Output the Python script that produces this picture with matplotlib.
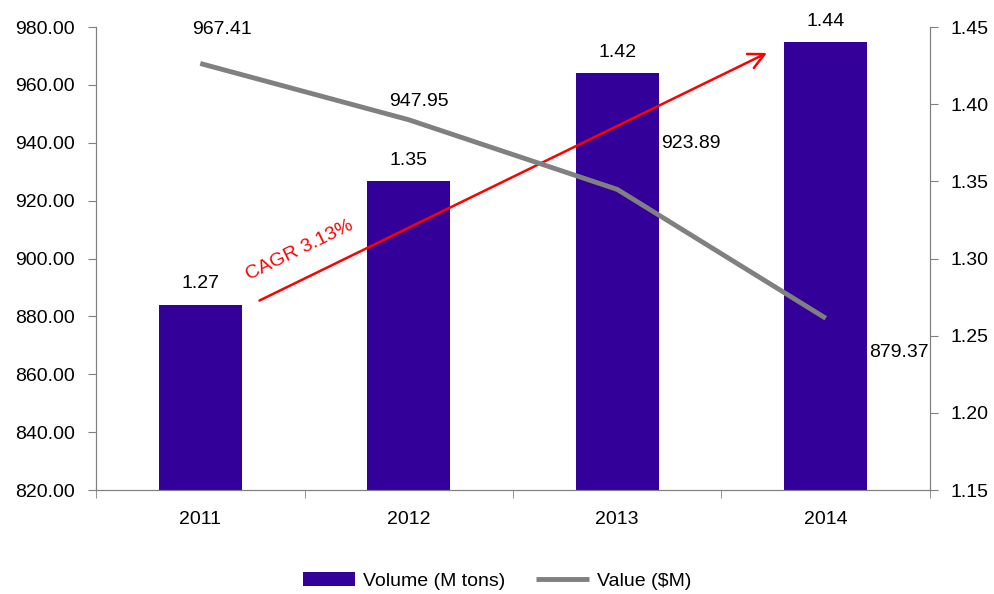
import matplotlib.pyplot as plt
import numpy as np

plt.rcParams['font.family'] = ['Liberation Sans', 'DejaVu Sans']

years = ["2011", "2012", "2013", "2014"]
volume = [1.27, 1.35, 1.42, 1.44]          # M tons (right axis)
value = [967.41, 947.95, 923.89, 879.37]   # $M (left axis)
cagr_label = "CAGR 3.13%"

FS = 14
x = np.arange(len(years))
fig = plt.figure(figsize=(9.94, 5.94), dpi=100)
ax = fig.add_axes([0.0966, 0.175, 0.839, 0.7795])
ax2 = ax.twinx()

# bars on the right axis, line on the left axis
ax2.bar(x, volume, width=0.4, color="#330099", zorder=2, label="Volume (M tons)")
ax.plot(x, value, color="#808080", lw=3.5, solid_capstyle="butt", label="Value ($M)")
ax.set_zorder(ax2.get_zorder() + 1)
ax.patch.set_visible(False)

ax.set_xlim(-0.5, 3.5)
ax.set_ylim(820, 980)
ax2.set_ylim(1.15, 1.45)
ax.set_yticks(np.arange(820, 981, 20))
ax.set_yticklabels([f"{v:.2f}" for v in np.arange(820, 981, 20)])
ax2.set_yticks(np.arange(1.15, 1.451, 0.05))
ax2.set_yticklabels([f"{v:.2f}" for v in np.arange(1.15, 1.451, 0.05)])

ax.set_xticks(x)
ax.set_xticklabels(years)
ax.set_xticks(np.arange(-0.5, 3.6, 1), minor=True)
ax.tick_params(axis="x", which="major", length=0, pad=15)
ax.tick_params(axis="x", which="minor", length=6, color="#808080")

for a in (ax, ax2):
    a.tick_params(axis="y", direction="out", length=6, color="#808080", labelsize=FS, pad=9)
    a.tick_params(axis="x", labelsize=FS)
    a.spines["top"].set_visible(False)
    for s in ("left", "right", "bottom"):
        a.spines[s].set_color("#808080")

# value labels
for xi, v in zip(x, volume):
    ax2.text(xi, v + 0.008, f"{v:.2f}", ha="center", va="bottom", fontsize=FS)

offsets = [(0.105, 11.6, "center"), (0.05, 6.2, "center"),
           (0.21, 16, "left"), (0.21, -11.7, "left")]
for xi, v, (dx, dy, ha) in zip(x, value, offsets):
    ax.text(xi + dx, v + dy, f"{v:.2f}", ha=ha, va="center", fontsize=FS)

# growth arrow
ax2.annotate("", xy=(2.73, 1.434), xytext=(0.272, 1.272),
             arrowprops=dict(arrowstyle="->", color="red", lw=1.8, mutation_scale=28))
ax2.text(0.478, 1.3055, cagr_label, color="red", fontsize=FS, rotation=26,
         ha="center", va="center", rotation_mode="anchor")

h1, l1 = ax2.get_legend_handles_labels()
h2, l2 = ax.get_legend_handles_labels()
fig.legend(h1 + h2, l1 + l2, loc="lower center", ncol=2, frameon=False,
           fontsize=FS, bbox_to_anchor=(0.5, -0.022), handlelength=2.7,
           handletextpad=0.4, columnspacing=1.6)

fig.savefig("out.png", dpi=100)
